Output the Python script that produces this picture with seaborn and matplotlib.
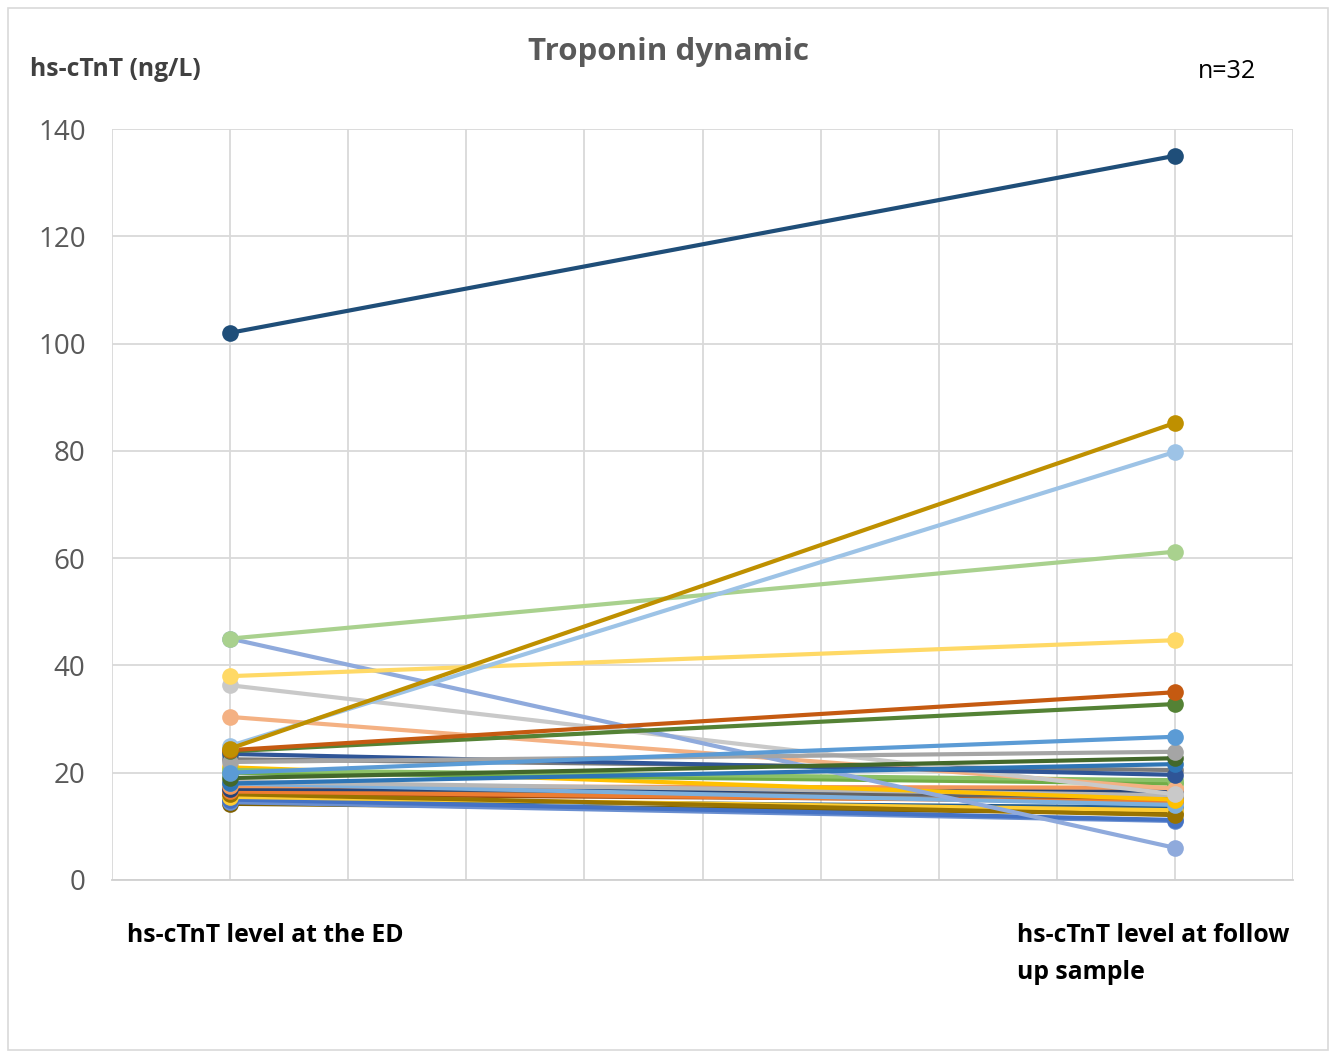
import matplotlib
matplotlib.use("Agg")
import matplotlib.pyplot as plt
import seaborn as sns
import pandas as pd
from matplotlib.patches import Rectangle

# ---- data ----
stages = ["hs-cTnT level at the ED", "hs-cTnT level at follow\nup sample"]
ed_values = [102, 24.5, 25, 45, 38, 24.2, 24, 20, 22, 19, 18, 23.5, 45, 36.3, 30.4,
             22.5, 20.5, 20, 21, 18.3, 18, 17.5, 17, 16.5, 16, 15.5, 15, 14.5, 17, 16, 15, 14.2]
fu_values = [135, 85.2, 79.8, 61.2, 44.7, 35, 32.8, 26.7, 23.9, 22.7, 21.6, 19.6, 6, 16, 17,
             20.5, 18.6, 18, 15, 15.8, 14, 17.2, 16.5, 14.5, 12.1, 13, 11.2, 11, 15.5, 14.8, 13.5, 12.5]
series_colors = ["#1F4E79", "#BF9000", "#9DC3E6", "#A9D18E", "#FFD966", "#C55A11", "#548235",
                 "#5B9BD5", "#A5A5A5", "#43682B", "#2E75B6", "#2F5597", "#8FAADC", "#C9C9C9",
                 "#F4B183", "#7B7B7B", "#8CC168", "#70AD47", "#FFC000", "#B7B7B7", "#7CAFDD",
                 "#F1975A", "#264478", "#ED7D31", "#997300", "#FFCD33", "#4472C4", "#698ED0",
                 "#636363", "#9E480E", "#255E91", "#7F6000"]
stage_pos = [1, 9]

rows = []
for i, (a, b) in enumerate(zip(ed_values, fu_values)):
    rows.append({"pid": f"P{i+1}", "pos": stage_pos[0], "value": a})
    rows.append({"pid": f"P{i+1}", "pos": stage_pos[1], "value": b})
df = pd.DataFrame(rows)
palette = {f"P{i+1}": c for i, c in enumerate(series_colors)}

sns.set_style("white")
plt.rcParams["font.family"] = ["Open Sans", "DejaVu Sans"]

fig = plt.figure(figsize=(13.35, 10.55), dpi=100)
fig.patches.append(Rectangle((8 / 1335, 1 - 1050 / 1055), 1320 / 1335, 1042 / 1055,
                             transform=fig.transFigure, fill=False, edgecolor="#D9D9D9",
                             linewidth=1.2))
ax = fig.add_axes([112 / 1335, 1 - 880 / 1055, (1293 - 112) / 1335, (880 - 129) / 1055])

order = list(palette.keys())[::-1]
for pid in order:
    sub = df[df["pid"] == pid]
    sns.lineplot(data=sub, x="pos", y="value", color=palette[pid], marker="o",
                 markersize=12, markeredgewidth=0, linewidth=3.0, legend=False,
                 ax=ax, zorder=3)

ax.set_xlim(0, 10)
ax.set_ylim(0, 140)
ax.set_xticks(range(0, 11))
ax.set_yticks(range(0, 141, 20))
ax.grid(True, color="#D9D9D9", linewidth=1.3)
ax.set_axisbelow(True)
for s in ["top", "right", "left"]:
    ax.spines[s].set_visible(False)
ax.spines["bottom"].set_color("#D0D0D0")
ax.spines["bottom"].set_linewidth(1.3)
ax.tick_params(axis="both", length=0)
ax.set_xticklabels([])
ax.set_yticklabels([str(v) for v in range(0, 141, 20)], fontsize=20, color="#595959")
ax.tick_params(axis="y", pad=19)
ax.set_xlabel("")
ax.set_ylabel("")

fig.text(668 / 1335, 1 - 52 / 1055, "Troponin dynamic", ha="center", va="center",
         fontsize=22.5, fontweight="bold", color="#595959")
fig.text(30 / 1335, 1 - 70 / 1055, "hs-cTnT (ng/L)", ha="left", va="center",
         fontsize=17.8, fontweight="bold", color="#404040")
fig.text(1198 / 1335, 1 - 71 / 1055, "n=32", ha="left", va="center",
         fontsize=18, color="black")
fig.text(127 / 1335, 1 - 935 / 1055, stages[0], ha="left", va="center",
         fontsize=17.8, fontweight="bold", color="black")
fig.text(1017 / 1335, 1 - 954 / 1055, stages[1], ha="left", va="center",
         fontsize=17.8, fontweight="bold", color="black", linespacing=1.6)

fig.savefig("out.png", dpi=100)
